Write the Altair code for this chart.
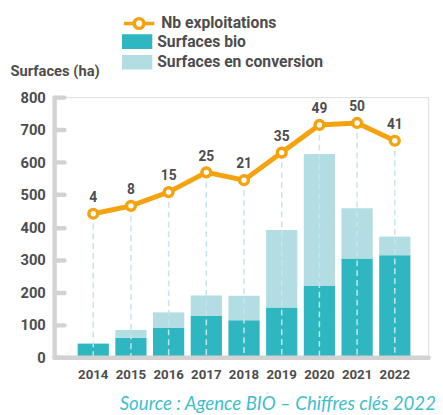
import altair as alt
import pandas as pd

# ---- data ----
years = ["2014", "2015", "2016", "2017", "2018", "2019", "2020", "2021", "2022"]
surf_bio = [42, 60, 91, 127, 114, 153, 219, 304, 314]
surf_conv = [0, 24, 47, 63, 75, 238, 406, 154, 57]
nb_exploit = [4, 8, 15, 25, 21, 35, 49, 50, 41]
y_ticks = [0, 100, 200, 300, 400, 500, 600, 700, 800]
series_bars = ["Surfaces bio", "Surfaces en conversion"]
series_line = ["Nb exploitations"]

FONT = "Roboto"
TXT = "#4d4d4d"
GRAY = "#d2d2d2"
TEAL = "#2fb7c1"
LIGHT = "#b2dde3"
ORANGE = "#f5a20f"
DASH = "#c6e5eb"
NB_DOMAIN = [-68.7, 63.1]

RECT_PATH = "M-1,-0.48H1V0.48H-1Z"
LINE_CIRCLE_PATH = ("M-1,0H-0.32M0.32,0H1M0.32,0A0.32,0.32,0,1,1,-0.32,0"
                    "A0.32,0.32,0,1,1,0.32,0")

bars_df = pd.DataFrame({
    "annee": years * 2,
    "serie": [series_bars[0]] * len(years) + [series_bars[1]] * len(years),
    "surface": surf_bio + surf_conv,
    "ordre": [0] * len(years) + [1] * len(years),
})
nb_df = pd.DataFrame({"annee": years, "nb": nb_exploit,
                      "serie": series_line * len(years)})

x_enc = alt.X(
    "annee:N", sort=years,
    scale=alt.Scale(paddingInner=0.172, paddingOuter=0.547, align=0.57),
    axis=alt.Axis(title=None, labelAngle=0, labelFont=FONT, labelFontWeight="bold",
                  labelFontSize=13.5, labelColor=TXT, labelPadding=11, ticks=False,
                  domainColor=GRAY, domainWidth=4.5, domainCap="round", zindex=1),
)

legend_common = dict(title=None, orient="none", padding=0, symbolSize=961,
                     clipHeight=16, rowPadding=5, labelOffset=5, labelFont=FONT,
                     labelFontSize=16, labelFontWeight="bold", labelColor=TXT,
                     labelLimit=300)

bars = alt.Chart(bars_df).mark_bar().encode(
    x=x_enc,
    y=alt.Y("surface:Q", stack="zero",
            scale=alt.Scale(domain=[0, 800], nice=False),
            axis=alt.Axis(values=y_ticks, title="Surfaces (ha)", titleAngle=0,
                          titleAlign="left", titleBaseline="alphabetic",
                          titleX=-45, titleY=-22, titleFont=FONT, titleFontSize=15,
                          titleFontWeight="bold", titleColor=TXT,
                          labelFont=FONT, labelFontSize=15, labelFontWeight="bold",
                          labelColor=TXT, labelPadding=9, ticks=False, tickSize=0,
                          domainColor=GRAY, domainWidth=4.5, domainCap="round",
                          grid=True, gridColor=GRAY, gridWidth=4.5, gridCap="round",
                          gridDash=[10, 2000])),
    fill=alt.Fill("serie:N", scale=alt.Scale(domain=series_bars, range=[TEAL, LIGHT]),
                  legend=alt.Legend(symbolType=RECT_PATH, legendX=69, legendY=-64.5,
                                    symbolStrokeWidth=0, **legend_common)),
    order=alt.Order("ordre:Q"),
)

nb_y = alt.Y("nb:Q", scale=alt.Scale(domain=NB_DOMAIN, nice=False, zero=False), axis=None)

rules = alt.Chart(nb_df).mark_rule(color=DASH, strokeWidth=1.5, strokeDash=[6, 4]).encode(
    x=x_enc, y=nb_y, y2=alt.datum(NB_DOMAIN[0]))

line = alt.Chart(nb_df).mark_line(color=ORANGE, strokeWidth=5).encode(x=x_enc, y=nb_y)

points = alt.Chart(nb_df).mark_point(shape="circle", filled=True, fill="white",
                                     size=80, strokeWidth=3.5, opacity=1).encode(
    x=x_enc, y=nb_y,
    stroke=alt.Stroke("serie:N", scale=alt.Scale(domain=series_line, range=[ORANGE]),
                      legend=alt.Legend(symbolType=LINE_CIRCLE_PATH, legendX=69,
                                        legendY=-83, symbolStrokeWidth=3.5,
                                        symbolFillColor="white", **legend_common)),
)

labels = alt.Chart(nb_df).mark_text(dy=-12, baseline="alphabetic", font=FONT,
                                    fontSize=14, fontWeight="bold", color=TXT).encode(
    x=x_enc, y=nb_y, text="nb:Q")

nb_layers = alt.layer(rules, line, points, labels)

chart = alt.layer(bars, nb_layers).resolve_scale(y="independent").properties(
    width=381, height=265,
    autosize=alt.AutoSizeParams(type="none"),
    padding={"left": 47, "top": 87, "right": 7, "bottom": 53},
    title=alt.TitleParams("Source : Agence BIO – Chiffres clés 2022", orient="bottom",
                          anchor="end", font="Lato", fontSize=19, fontStyle="italic",
                          fontWeight="normal", color="#3fbfca", offset=29,
                          baseline="alphabetic", dx=8),
).configure_view(strokeWidth=0).configure(background="white")

chart.save("out.html", embed_options={"renderer": "svg", "actions": False})
